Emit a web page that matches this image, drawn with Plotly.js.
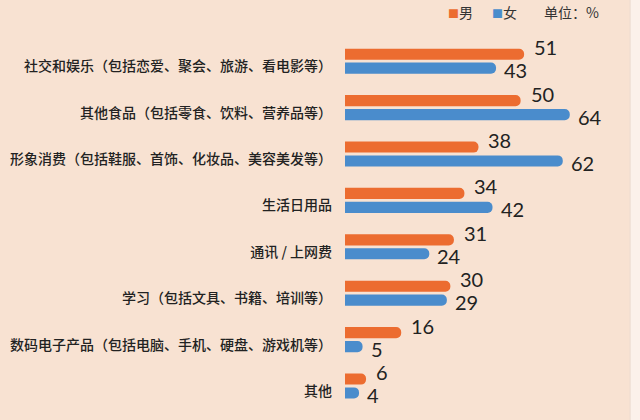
<!DOCTYPE html>
<html>
<head>
<meta charset="utf-8">
<script src="https://cdn.plot.ly/plotly-3.0.1.min.js"></script>
<style>
  html, body { margin: 0; padding: 0; background: #f8e2d2; }
  #chart { width: 640px; height: 420px; }
</style>
</head>
<body>
<div id="chart"></div>
<script>
// 大学生消费支出类别（男/女，单位：%）
const categories = [
  "社交和娱乐（包括恋爱、聚会、旅游、看电影等）",
  "其他食品（包括零食、饮料、营养品等）",
  "形象消费（包括鞋服、首饰、化妆品、美容美发等）",
  "生活日用品",
  "通讯 / 上网费",
  "学习（包括文具、书籍、培训等）",
  "数码电子产品（包括电脑、手机、硬盘、游戏机等）",
  "其他"
];
const male = [51, 50, 38, 34, 31, 30, 16, 6];
const female = [43, 64, 62, 42, 24, 29, 5, 4];
const seriesNames = ["男", "女"];
const unitText = "单位：%";

const orange = "#ec6c30";
const blue = "#4a8ccc";

const cjk = "'Noto Sans CJK SC', sans-serif";
const labelFont = { family: "Lato, 'DejaVu Sans', sans-serif", size: 20, color: "#222" };

let data = [
  {
    type: "bar",
    orientation: "h",
    name: seriesNames[0],
    x: male,
    y: categories,
    marker: { color: orange, cornerradius: 5 },
    hoverinfo: "none"
  },
  {
    type: "bar",
    orientation: "h",
    name: seriesNames[1],
    x: female,
    y: categories,
    marker: { color: blue, cornerradius: 5 },
    hoverinfo: "none"
  }
];

let annotations = [];
for (let i = 0; i < categories.length; i++) {
  annotations.push({
    x: male[i], y: categories[i], xref: "x", yref: "y",
    text: String(male[i]), showarrow: false,
    xanchor: "left", xshift: 8, yshift: 14, font: labelFont
  });
  annotations.push({
    x: female[i], y: categories[i], xref: "x", yref: "y",
    text: String(female[i]), showarrow: false,
    xanchor: "left", xshift: 6, yshift: -9, font: labelFont
  });
}

// legend drawn as text, like the original
const legendFont = { family: cjk, size: 14, color: "#333" };
const legendX = [0.352, 0.505];
const legendColors = [orange, blue];
for (let i = 0; i < seriesNames.length; i++) {
  annotations.push({
    x: legendX[i], y: 1.069, xref: "paper", yref: "paper",
    text: `<span style="color:${legendColors[i]};font-size:11px">■</span>${seriesNames[i]}`,
    showarrow: false, xanchor: "left", yanchor: "middle", font: legendFont
  });
}
annotations.push({
  x: 0.685, y: 1.069, xref: "paper", yref: "paper",
  text: unitText, showarrow: false, xanchor: "left", yanchor: "middle",
  font: legendFont
});

const layout = {
  width: 640,
  height: 420,
  margin: { l: 345, r: 7, t: 38, b: 6 },
  paper_bgcolor: "#f8e2d2",
  plot_bgcolor: "#f8e2d2",
  barmode: "group",
  bargap: 0.4,
  bargroupgap: 0.2,
  showlegend: false,
  xaxis: { range: [0, 82], visible: false, fixedrange: true },
  yaxis: {
    type: "category",
    autorange: "reversed",
    showgrid: false,
    showline: false,
    zeroline: false,
    ticks: "",
    ticklabelstandoff: 12,
    ticklabelshift: -5,
    tickfont: { family: cjk, size: 14, color: "#222", weight: 500 },
    fixedrange: true
  },
  // pale strip at the right edge of the original image
  shapes: [{
    type: "rect", xref: "paper", yref: "paper",
    x0: 0.99, x1: 1.03, y0: -0.02, y1: 1.11,
    fillcolor: "#fbf1ea", line: { color: "#eadbd0", width: 1 },
    layer: "above"
  }],
  annotations: annotations
};

Plotly.newPlot("chart", data, layout, { displayModeBar: false, staticPlot: true });
</script>
</body>
</html>
